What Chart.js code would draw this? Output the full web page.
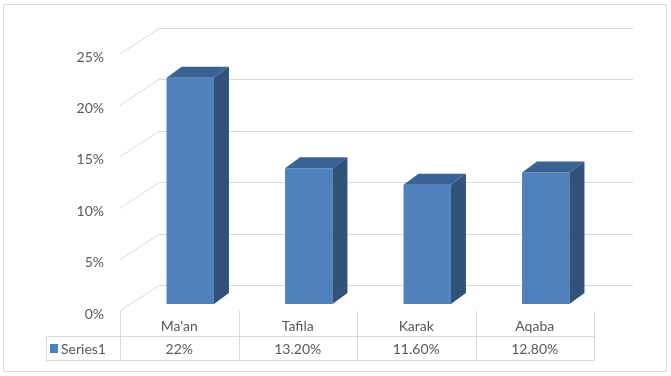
<!DOCTYPE html>
<html>
<head>
<meta charset="utf-8">
<script src="https://cdn.jsdelivr.net/npm/chart.js@4"></script>
<style>
  html, body { margin: 0; padding: 0; background: #fff; }
  #wrap { width: 671px; height: 376px; position: relative; }
</style>
</head>
<body>
<div id="wrap"><canvas id="chart" width="671" height="376"></canvas></div>
<script>
// datos del gráfico
const categories = ["Ma'an", 'Tafila', 'Karak', 'Aqaba'];
const values = [22, 13.2, 11.6, 12.8];
const valueLabels = ['22%', '13.20%', '11.60%', '12.80%'];
const seriesName = 'Series1';
const yTicks = [0, 5, 10, 15, 20, 25];

const FONT = '14px Lato, "Liberation Sans", sans-serif';
const TEXT = '#595959';
const GRID = '#d9d9d9';
const FRONT = '#4f81bd';
const TOP = '#3b6294';
const SIDE = '#30527b';

// desplazamientos de la perspectiva (pared del fondo y profundidad de barra)
const WALL = { dx: 28, dy: -19 };
const EDGE = { dx: -11, dy: 7 };
const DEPTH = { dx: 15, dy: -11 };

const fake3d = {
  id: 'fake3d',
  beforeDatasetsDraw(chart) {
    const { ctx, chartArea: a, scales: { y } } = chart;
    ctx.save();
    ctx.strokeStyle = GRID;
    ctx.lineWidth = 1;
    ctx.font = FONT;
    ctx.fillStyle = TEXT;
    ctx.textAlign = 'right';
    ctx.textBaseline = 'middle';
    yTicks.forEach(v => {
      const py = y.getPixelForValue(v);
      const by = Math.round(py + WALL.dy) + 0.5;
      ctx.beginPath();
      ctx.moveTo(a.left + WALL.dx, by);
      ctx.lineTo(a.right + WALL.dx, by);
      ctx.moveTo(a.left + WALL.dx, by);
      ctx.lineTo(a.left + EDGE.dx, py + EDGE.dy);
      ctx.stroke();
      ctx.fillText(v + '%', a.left + EDGE.dx - 16, py + EDGE.dy + 3);
    });
    ctx.restore();
  },
  afterDatasetsDraw(chart) {
    const { ctx } = chart;
    const meta = chart.getDatasetMeta(0);
    ctx.save();
    meta.data.forEach(bar => {
      const l = bar.x - bar.width / 2, r = bar.x + bar.width / 2;
      const t = bar.y, b = bar.base;
      ctx.fillStyle = TOP;
      ctx.beginPath();
      ctx.moveTo(l, t); ctx.lineTo(r, t);
      ctx.lineTo(r + DEPTH.dx, t + DEPTH.dy); ctx.lineTo(l + DEPTH.dx, t + DEPTH.dy);
      ctx.closePath(); ctx.fill();
      ctx.fillStyle = SIDE;
      ctx.beginPath();
      ctx.moveTo(r, t); ctx.lineTo(r + DEPTH.dx, t + DEPTH.dy);
      ctx.lineTo(r + DEPTH.dx, b + DEPTH.dy); ctx.lineTo(r, b);
      ctx.closePath(); ctx.fill();
    });
    ctx.restore();
  },
  afterDraw(chart) {
    const { ctx, chartArea: a, scales: { x } } = chart;
    const n = categories.length;
    const step = (a.right - a.left) / n;
    const top = a.bottom + EDGE.dy;
    const mid = 336.5, bot = 360.5, legL = 46.5;
    const col = i => Math.round(a.left + EDGE.dx + i * step) + 0.5;
    ctx.save();
    ctx.strokeStyle = GRID;
    ctx.lineWidth = 1;
    ctx.beginPath();
    for (let i = 0; i <= n; i++) {
      ctx.moveTo(col(i), top); ctx.lineTo(col(i), bot);
    }
    ctx.moveTo(legL, mid); ctx.lineTo(col(n), mid);
    ctx.moveTo(legL, bot); ctx.lineTo(col(n), bot);
    ctx.moveTo(legL, mid); ctx.lineTo(legL, bot);
    ctx.stroke();
    // borde exterior
    ctx.strokeRect(3.5, 4.5, 663, 367);

    ctx.font = FONT;
    ctx.fillStyle = TEXT;
    ctx.textAlign = 'center';
    ctx.textBaseline = 'middle';
    categories.forEach((c, i) => {
      const cx = x.getPixelForValue(i) + EDGE.dx;
      ctx.fillText(c, cx, 326);
      ctx.fillText(valueLabels[i], cx, 349);
    });
    ctx.fillStyle = FRONT;
    ctx.fillRect(50, 344, 8, 9);
    ctx.fillStyle = TEXT;
    ctx.textAlign = 'left';
    ctx.fillText(seriesName, 61, 349);
    ctx.restore();
  }
};

new Chart(document.getElementById('chart'), {
  type: 'bar',
  data: {
    labels: categories,
    datasets: [{
      label: seriesName,
      data: values,
      backgroundColor: FRONT,
      borderWidth: 0,
      barPercentage: 0.4,
      categoryPercentage: 1
    }]
  },
  options: {
    responsive: false,
    animation: false,
    layout: { padding: { left: 131, right: 66, top: 47, bottom: 72 } },
    plugins: { legend: { display: false }, tooltip: { enabled: false } },
    scales: {
      x: { display: false },
      y: { display: false, min: 0, max: 25 }
    }
  },
  plugins: [fake3d]
});
</script>
</body>
</html>
